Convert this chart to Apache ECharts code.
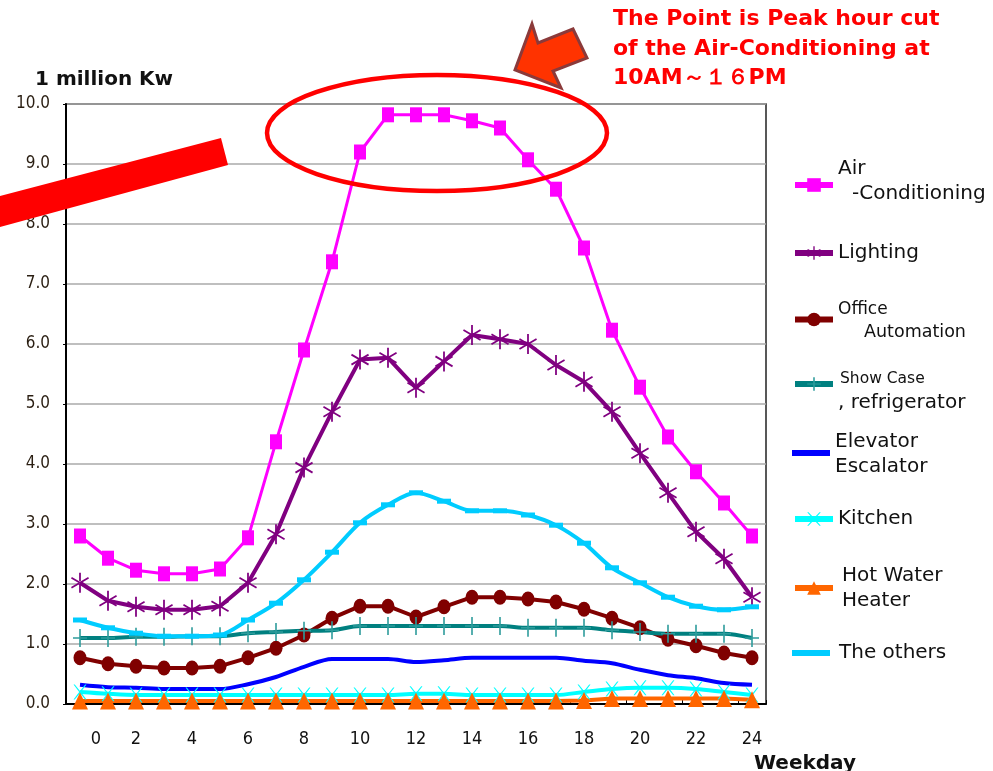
<!DOCTYPE html>
<html lang="en" style="height: 100%">
<head>
<meta charset="utf-8">
<title>Power demand by use - weekday</title>
</head>
<body style="height: 100%; margin: 0; background: #fff">
<div id="container" style="height: 100%"></div>

<script type="text/javascript" src="https://cdn.jsdelivr.net/npm/echarts/dist/echarts.min.js"></script>

<script type="text/javascript">
var dom = document.getElementById('container');
var myChart = echarts.init(dom);

// hours of the day (category axis)
var hours = ['0', '1', '2', '3', '4', '5', '6', '7', '8', '9', '10', '11', '12',
             '13', '14', '15', '16', '17', '18', '19', '20', '21', '22', '23', '24'];

// demand in 1 million kW
var airConditioning = [2.8, 2.43, 2.23, 2.17, 2.17, 2.25, 2.77, 4.37, 5.9, 7.37, 9.2, 9.82, 9.82,
                       9.82, 9.72, 9.6, 9.07, 8.58, 7.6, 6.23, 5.28, 4.45, 3.87, 3.35, 2.8];
var lighting = [2.02, 1.72, 1.62, 1.57, 1.57, 1.63, 2.02, 2.83, 3.94, 4.87, 5.74, 5.77, 5.27,
                5.71, 6.15, 6.08, 6.0, 5.65, 5.37, 4.87, 4.18, 3.52, 2.87, 2.42, 1.78];
var officeAutomation = [0.77, 0.67, 0.63, 0.6, 0.6, 0.63, 0.77, 0.93, 1.15, 1.43, 1.63, 1.63, 1.45,
                        1.62, 1.78, 1.78, 1.75, 1.7, 1.58, 1.43, 1.27, 1.08, 0.97, 0.85, 0.77];
var showCase = [1.1, 1.1, 1.12, 1.12, 1.13, 1.13, 1.18, 1.2, 1.22, 1.23, 1.3, 1.3, 1.3,
                1.3, 1.3, 1.3, 1.27, 1.27, 1.27, 1.23, 1.2, 1.17, 1.17, 1.17, 1.1];
var elevator = [0.32, 0.28, 0.27, 0.25, 0.25, 0.25, 0.33, 0.45, 0.62, 0.75, 0.75, 0.75, 0.7,
                0.73, 0.77, 0.77, 0.77, 0.77, 0.72, 0.68, 0.57, 0.48, 0.43, 0.35, 0.32];
var kitchen = [0.2, 0.17, 0.15, 0.15, 0.15, 0.15, 0.15, 0.15, 0.15, 0.15, 0.15, 0.15, 0.17,
               0.17, 0.15, 0.15, 0.15, 0.15, 0.2, 0.25, 0.27, 0.27, 0.25, 0.2, 0.15];
var hotWater = [0.05, 0.05, 0.05, 0.05, 0.05, 0.05, 0.05, 0.05, 0.05, 0.05, 0.05, 0.05, 0.05,
                0.05, 0.05, 0.05, 0.05, 0.05, 0.06, 0.09, 0.09, 0.09, 0.09, 0.09, 0.07];
var others = [1.4, 1.27, 1.18, 1.13, 1.13, 1.15, 1.4, 1.68, 2.07, 2.53, 3.02, 3.32, 3.52,
              3.38, 3.22, 3.22, 3.15, 2.98, 2.68, 2.27, 2.02, 1.78, 1.63, 1.57, 1.62];

var seriesNames = ['Air-Conditioning', 'Lighting', 'Office Automation', 'Show Case, refrigerator',
                   'Elevator Escalator', 'Kitchen', 'Hot Water Heater', 'The others'];

// marker shapes
var asterisk = 'path://M-0.9,-10L0.9,-10L0.9,10L-0.9,10Z' +
    'M-9.11,-4.22L8.21,5.78L9.11,4.22L-8.21,-5.78Z' +
    'M-8.21,5.78L9.11,-4.22L8.21,-5.78L-9.11,4.22Z';
var plus = 'path://M-0.8,-9L0.8,-9L0.8,9L-0.8,9Z M-7,-0.8L7,-0.8L7,0.8L-7,0.8Z';
var cross = 'path://M-7,-8L-5.6,-8L0,-1.2L5.6,-8L7,-8L0.9,0L7,8L5.6,8L0,1.2L-5.6,8L-7,8L-0.9,0Z';
var bar = 'path://M0,0H38V6H0Z';

function line(name, data, color, width, symbol, size, smooth, symbolColor) {
    return {
        name: name,
        type: 'line',
        data: data,
        smooth: smooth,
        symbol: symbol,
        symbolSize: size,
        showSymbol: symbol !== 'none',
        showAllSymbol: true,
        lineStyle: { color: color, width: width },
        itemStyle: { color: symbolColor || color },
        emphasis: { disabled: true }
    };
}

var legendFont = 'DejaVu Sans, Verdana, sans-serif';
var narrowFont = 'Liberation Sans Narrow, DejaVu Sans Condensed, sans-serif';

function legendFor(name, top, text, rich, icon) {
    var l = {
        data: [name],
        left: 792,
        top: top,
        orient: 'vertical',
        padding: 0,
        itemWidth: 38,
        itemHeight: 17,
        lineStyle: { width: 6 },
        formatter: text,
        textStyle: { fontFamily: legendFont, fontSize: 20, color: '#111', rich: rich }
    };
    if (icon) {
        l.icon = icon;
    }
    return l;
}

option = {
    animation: false,
    backgroundColor: '#fff',
    title: [
        {
            text: '1 million Kw',
            left: 30, top: 65,
            textStyle: { fontFamily: legendFont, fontSize: 20, fontWeight: 'bold', color: '#111' }
        },
        {
            text: 'Weekday',
            left: 749, top: 749,
            textStyle: { fontFamily: legendFont, fontSize: 20, fontWeight: 'bold', color: '#111' }
        },
        {
            text: 'The Point is Peak hour cut\nof the Air-Conditioning at\n10AM～１６PM',
            left: 608, top: 0,
            textStyle: {
                fontFamily: legendFont, fontSize: 22, fontWeight: 'bold',
                color: '#ff0000', lineHeight: 29.5
            }
        }
    ],
    legend: [
        legendFor(seriesNames[0], 159, '{a|Air}\n{b|-Conditioning}', {
            a: { fontSize: 20, lineHeight: 18, fontFamily: legendFont, color: '#111' },
            b: { fontSize: 20, lineHeight: 32, fontFamily: legendFont, color: '#111', padding: [0, 0, 0, 14] }
        }),
        legendFor(seriesNames[1], 243, 'Lighting', {}),
        legendFor(seriesNames[2], 301, '{a|Office}\n{b|Automation}', {
            a: { fontSize: 17, lineHeight: 26, fontFamily: legendFont, color: '#111' },
            b: { fontSize: 17.5, lineHeight: 20, fontFamily: legendFont, color: '#111', padding: [0, 0, 0, 26] }
        }),
        legendFor(seriesNames[3], 371, '{a|Show Case}\n{b|, refrigerator}', {
            a: { fontSize: 15.5, lineHeight: 38, fontFamily: legendFont, color: '#111', padding: [0, 0, 0, 2] },
            b: { fontSize: 20, lineHeight: 10, fontFamily: legendFont, color: '#111' }
        }),
        legendFor(seriesNames[4], 432, '{a|Elevator}\n{b|Escalator}', {
            a: { fontSize: 20, lineHeight: 28, fontFamily: legendFont, color: '#111' },
            b: { fontSize: 20, lineHeight: 22, fontFamily: legendFont, color: '#111' }
        }, bar),
        legendFor(seriesNames[5], 509, 'Kitchen', {}),
        legendFor(seriesNames[6], 566, '{a|Hot Water}\n{b|Heater}', {
            a: { fontSize: 20, lineHeight: 26, fontFamily: legendFont, color: '#111', padding: [0, 0, 0, 4] },
            b: { fontSize: 20, lineHeight: 24, fontFamily: legendFont, color: '#111', padding: [0, 0, 0, 4] }
        }),
        legendFor(seriesNames[7], 643, '{a|The others}', {
            a: { fontSize: 20, lineHeight: 24, fontFamily: legendFont, color: '#111', padding: [0, 0, 0, 4] }
        }, bar)
    ],
    grid: {
        left: 66, right: 227, top: 104, bottom: 67,
        show: true,
        borderColor: '#222',
        borderWidth: 1.5
    },
    xAxis: {
        type: 'category',
        data: hours,
        boundaryGap: true,
        axisLine: { lineStyle: { color: '#000', width: 2 } },
        axisTick: { show: true, inside: true, length: 4, lineStyle: { color: '#000' } },
        axisLabel: {
            interval: 1,
            margin: 26,
            fontFamily: narrowFont,
            fontSize: 18,
            color: '#111',
            formatter: function (v, i) {
                return i === 0 ? '{z|' + v + '}' : v;
            },
            rich: {
                z: { fontFamily: narrowFont, fontSize: 18, color: '#111', padding: [0, 0, 0, 32] }
            }
        },
        splitLine: { show: false }
    },
    yAxis: {
        type: 'value',
        min: 0,
        max: 10,
        interval: 1,
        axisLine: { show: true, lineStyle: { color: '#000', width: 2 } },
        axisTick: { show: true, length: 3, lineStyle: { color: '#000' } },
        axisLabel: {
            margin: 16,
            fontFamily: narrowFont,
            fontSize: 17,
            color: '#2a1e12',
            formatter: function (v) { return v.toFixed(1); }
        },
        splitLine: { lineStyle: { color: '#aaaaaa', width: 1.5 } }
    },
    graphic: [
        {
            type: 'polygon',
            shape: { points: [[0, 196], [221, 138], [228, 165], [0, 227]] },
            style: { fill: '#ff0000' },
            z: 100
        },
        {
            type: 'ellipse',
            shape: { cx: 437, cy: 133, rx: 170, ry: 58 },
            style: { fill: null, stroke: '#ff0000', lineWidth: 4.5 },
            z: 100
        },
        {
            type: 'polygon',
            shape: { points: [[532, 24], [538, 43], [573, 29], [587, 58], [553, 71], [561, 88], [515, 70]] },
            style: { fill: '#ff3300', stroke: '#8b3a3a', lineWidth: 3, lineJoin: 'miter' },
            z: 100
        }
    ],
    series: [
        line(seriesNames[0], airConditioning, '#ff00ff', 3, 'rect', [12, 15], false),
        line(seriesNames[1], lighting, '#800080', 4, asterisk, [18, 20], false),
        line(seriesNames[2], officeAutomation, '#800000', 4, 'circle', [13, 15], false),
        line(seriesNames[3], showCase, '#008080', 4, plus, [14, 18], 0.3, '#2e9c9c'),
        line(seriesNames[4], elevator, '#0000ff', 4, 'none', 0, 0.3),
        line(seriesNames[5], kitchen, '#00ffff', 4, cross, [13, 15], 0.3),
        line(seriesNames[6], hotWater, '#ff6600', 4, 'triangle', [16, 17], false),
        line(seriesNames[7], others, '#00ccff', 4, 'rect', [14, 5], 0.3)
    ]
};

if (option && typeof option === 'object') {
    myChart.setOption(option);
}

window.addEventListener('resize', myChart.resize);
</script>
</body>
</html>
